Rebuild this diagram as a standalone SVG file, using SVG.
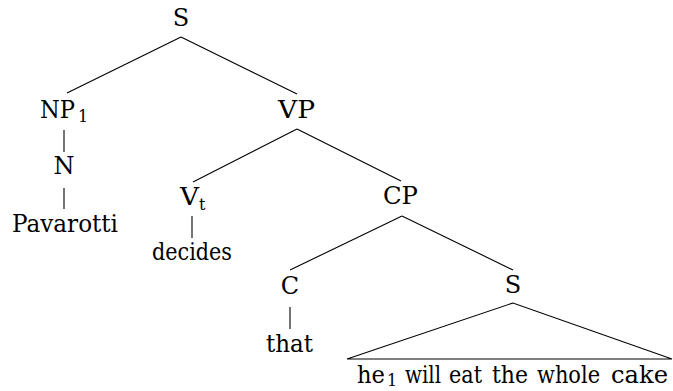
<svg xmlns="http://www.w3.org/2000/svg" width="673" height="391" viewBox="0 0 673 391">
<style>
text{font-family:"DejaVu Serif",serif;font-size:24px;fill:#000;text-anchor:middle}
.sub{font-size:16px;text-anchor:start}
.st{text-anchor:start}
line,polygon{stroke:#000;stroke-width:1.1;fill:none}
</style>
<rect width="673" height="391" fill="#fff"/>
<g id="connectors">
<line x1="181" y1="37" x2="67" y2="93"/>
<line x1="181" y1="37" x2="297" y2="94"/>
<line x1="64" y1="130" x2="64" y2="152"/>
<line x1="64" y1="188" x2="64" y2="209"/>
<line x1="297" y1="129" x2="193" y2="182"/>
<line x1="297" y1="129" x2="401" y2="181"/>
<line x1="192" y1="216" x2="192" y2="238"/>
<line x1="402" y1="216" x2="290" y2="270"/>
<line x1="402" y1="216" x2="513" y2="270"/>
<line x1="290" y1="307" x2="290" y2="329"/>
<polygon points="513,303 347,359 672,359"/>
</g>
<g id="S"><text x="181" y="26">S</text></g>
<g id="NP1"><text class="st" x="40" y="118" textLength="35" lengthAdjust="spacingAndGlyphs">NP</text><text class="sub" x="78" y="122">1</text></g>
<g id="N"><text x="64" y="174">N</text></g>
<g id="Pavarotti"><text class="st" x="12" y="232" textLength="106" lengthAdjust="spacingAndGlyphs">Pavarotti</text></g>
<g id="VP"><text class="st" x="278" y="118" textLength="37" lengthAdjust="spacingAndGlyphs">VP</text></g>
<g id="Vt"><text class="st" x="180" y="205" textLength="19" lengthAdjust="spacingAndGlyphs">V</text><text class="sub" x="199" y="210">t</text></g>
<g id="decides"><text class="st" x="152" y="260" textLength="80" lengthAdjust="spacingAndGlyphs">decides</text></g>
<g id="CP"><text class="st" x="383" y="204" textLength="35" lengthAdjust="spacingAndGlyphs">CP</text></g>
<g id="C"><text x="290" y="294">C</text></g>
<g id="that"><text class="st" x="266" y="352" textLength="47" lengthAdjust="spacingAndGlyphs">that</text></g>
<g id="S2"><text x="513" y="293">S</text></g>
<g id="sentence">
<text class="st" x="357" y="383" textLength="28" lengthAdjust="spacingAndGlyphs">he</text>
<text class="sub" x="387" y="386">1</text>
<text class="st" x="405" y="383" textLength="36" lengthAdjust="spacingAndGlyphs">will</text>
<text class="st" x="449" y="383" textLength="33" lengthAdjust="spacingAndGlyphs">eat</text>
<text class="st" x="492" y="383" textLength="36" lengthAdjust="spacingAndGlyphs">the</text>
<text class="st" x="537" y="383" textLength="63" lengthAdjust="spacingAndGlyphs">whole</text>
<text class="st" x="611" y="383" textLength="57" lengthAdjust="spacingAndGlyphs">cake</text>
</g>
</svg>
